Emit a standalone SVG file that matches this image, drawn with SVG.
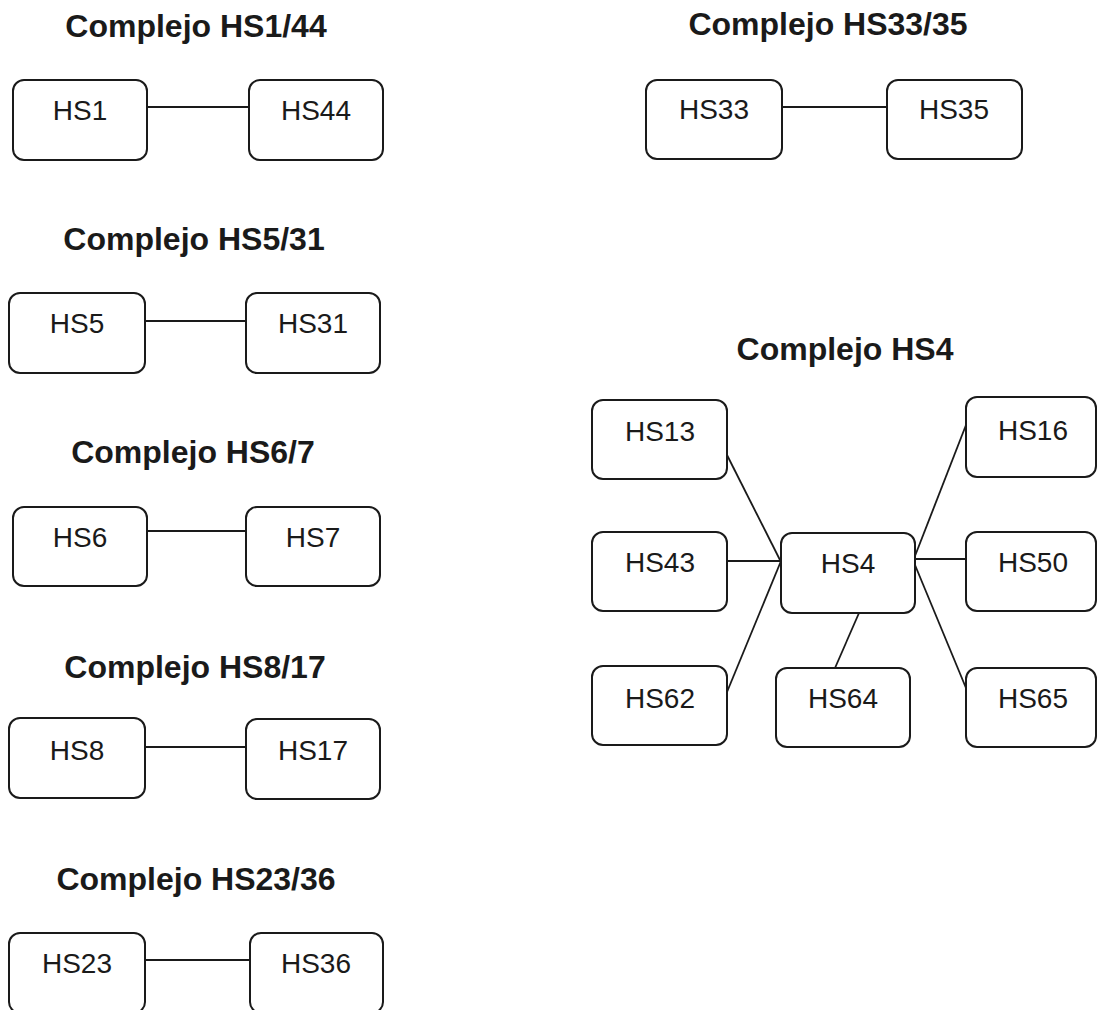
<svg xmlns="http://www.w3.org/2000/svg" width="1097" height="1010" viewBox="0 0 1097 1010">
<style>
.box{fill:#fff;stroke:#1a1a1a;stroke-width:2}
.lbl{font-family:"Liberation Sans",Arial,sans-serif;font-size:28px;fill:#1a1a1a;text-anchor:middle}
.ttl{font-family:"Liberation Sans",Arial,sans-serif;font-size:32px;font-weight:bold;fill:#1a1a1a;text-anchor:middle}
.con line{stroke:#1a1a1a;stroke-width:1.8}
</style>
<rect width="1097" height="1010" fill="#fff"/>
<g id="titles">
<text class="ttl" x="196" y="37">Complejo HS1/44</text>
<text class="ttl" x="194" y="250">Complejo HS5/31</text>
<text class="ttl" x="193" y="463">Complejo HS6/7</text>
<text class="ttl" x="195" y="678">Complejo HS8/17</text>
<text class="ttl" x="196" y="890">Complejo HS23/36</text>
<text class="ttl" x="828" y="35">Complejo HS33/35</text>
<text class="ttl" x="845" y="360">Complejo HS4</text>
</g>
<g id="connectors" class="con">
<line x1="147" y1="107" x2="249" y2="107"/>
<line x1="145" y1="321" x2="246" y2="321"/>
<line x1="147" y1="531" x2="246" y2="531"/>
<line x1="145" y1="747" x2="246" y2="747"/>
<line x1="145" y1="960" x2="250" y2="960"/>
<line x1="782" y1="107" x2="887" y2="107"/>
<line x1="727" y1="455" x2="781" y2="562"/>
<line x1="727" y1="561" x2="781" y2="561"/>
<line x1="727" y1="692" x2="781" y2="561"/>
<line x1="915" y1="556" x2="966" y2="425"/>
<line x1="915" y1="559" x2="966" y2="559"/>
<line x1="915" y1="565" x2="966" y2="688"/>
<line x1="835" y1="668" x2="859" y2="613"/>
</g>
<g id="n-HS1"><rect class="box" x="13" y="80" width="134" height="80" rx="11"/><text class="lbl" x="80" y="120">HS1</text></g>
<g id="n-HS44"><rect class="box" x="249" y="80" width="134" height="80" rx="11"/><text class="lbl" x="316" y="120">HS44</text></g>
<g id="n-HS5"><rect class="box" x="9" y="293" width="136" height="80" rx="11"/><text class="lbl" x="77" y="333">HS5</text></g>
<g id="n-HS31"><rect class="box" x="246" y="293" width="134" height="80" rx="11"/><text class="lbl" x="313" y="333">HS31</text></g>
<g id="n-HS6"><rect class="box" x="13" y="507" width="134" height="79" rx="11"/><text class="lbl" x="80" y="547">HS6</text></g>
<g id="n-HS7"><rect class="box" x="246" y="507" width="134" height="79" rx="11"/><text class="lbl" x="313" y="547">HS7</text></g>
<g id="n-HS8"><rect class="box" x="9" y="718" width="136" height="80" rx="11"/><text class="lbl" x="77" y="760">HS8</text></g>
<g id="n-HS17"><rect class="box" x="246" y="719" width="134" height="80" rx="11"/><text class="lbl" x="313" y="760">HS17</text></g>
<g id="n-HS23"><rect class="box" x="9" y="933" width="136" height="80" rx="11"/><text class="lbl" x="77" y="973">HS23</text></g>
<g id="n-HS36"><rect class="box" x="250" y="933" width="133" height="80" rx="11"/><text class="lbl" x="316" y="973">HS36</text></g>
<g id="n-HS33"><rect class="box" x="646" y="80" width="136" height="79" rx="11"/><text class="lbl" x="714" y="119">HS33</text></g>
<g id="n-HS35"><rect class="box" x="887" y="80" width="135" height="79" rx="11"/><text class="lbl" x="954" y="119">HS35</text></g>
<g id="n-HS13"><rect class="box" x="592" y="400" width="135" height="79" rx="11"/><text class="lbl" x="660" y="441">HS13</text></g>
<g id="n-HS43"><rect class="box" x="592" y="532" width="135" height="79" rx="11"/><text class="lbl" x="660" y="572">HS43</text></g>
<g id="n-HS62"><rect class="box" x="592" y="666" width="135" height="79" rx="11"/><text class="lbl" x="660" y="708">HS62</text></g>
<g id="n-HS4"><rect class="box" x="781" y="533" width="134" height="80" rx="11"/><text class="lbl" x="848" y="573">HS4</text></g>
<g id="n-HS64"><rect class="box" x="776" y="668" width="134" height="79" rx="11"/><text class="lbl" x="843" y="708">HS64</text></g>
<g id="n-HS16"><rect class="box" x="966" y="397" width="130" height="80" rx="11"/><text class="lbl" x="1033" y="440">HS16</text></g>
<g id="n-HS50"><rect class="box" x="966" y="532" width="130" height="79" rx="11"/><text class="lbl" x="1033" y="572">HS50</text></g>
<g id="n-HS65"><rect class="box" x="966" y="668" width="130" height="79" rx="11"/><text class="lbl" x="1033" y="708">HS65</text></g>
</svg>
